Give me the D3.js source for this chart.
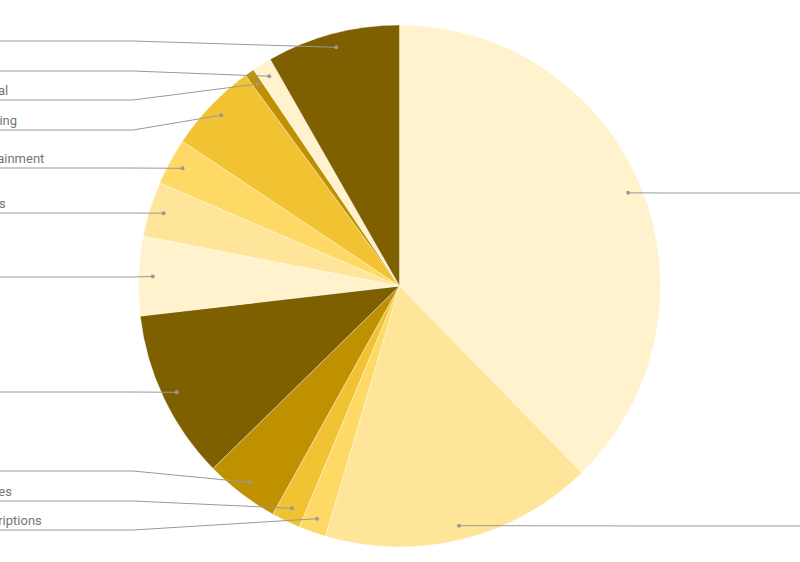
<!DOCTYPE html>
<html>
<head>
<meta charset="utf-8">
<script src="https://cdn.jsdelivr.net/npm/d3@7"></script>
<style>
body { margin: 0; background: #fff; overflow: hidden; }
text { font-family: Roboto, 'Noto Sans', sans-serif; font-size: 13px; fill: #757575; }
</style>
</head>
<body>
<svg id="chart"></svg>
<script>
// slices clockwise from 12 o'clock
var categories = ['Rent', 'Groceries', 'Subscriptions', 'Supplies', 'Gas', 'Dining', 'Travel',
	'Utilities', 'Entertainment', 'Shopping', 'Medical', 'Pets', 'Loans']
var values = [37.7, 16.9, 1.7, 1.8, 4.6, 10.5, 4.9, 3.4, 2.9, 5.6, 0.6, 1.2, 8.25]
var colors = ['#fff2cc', '#ffe599', '#ffd966', '#f1c232', '#bf9000', '#7f6000', '#fff2cc',
	'#ffe599', '#ffd966', '#f1c232', '#bf9000', '#fff2cc', '#7f6000']

var W = 800, H = 562
var cx = 399.5, cy = 286, R = 261
var DOT_R = R * 0.946
var LABEL_GAP = 29.5, LABEL_MIN = 41, LABEL_MAX = 530
var TEXT_X = -37.5, BEND = 133

var svg = d3.select('#chart').attr('width', W).attr('height', H)

var pie = d3.pie().sort(null).value(function(d){return d.v})
var arcs = pie(categories.map(function(c, i){return {name: c, v: values[i], color: colors[i]}}))
var arc = d3.arc().innerRadius(0).outerRadius(R)

var g = svg.append('g').attr('transform', 'translate(' + cx + ',' + cy + ')')
g.selectAll('path').data(arcs).enter().append('path')
	.attr('d', arc)
	.attr('fill', function(d){return d.data.color})
	.attr('stroke', '#fff').attr('stroke-width', 0.4)

// dot position on each slice, label side
arcs.forEach(function(d)
{
	var a = (d.startAngle + d.endAngle) / 2
	d.dx = cx + Math.sin(a) * DOT_R
	d.dy = cy - Math.cos(a) * DOT_R
	d.left = a > Math.PI
})

//spread labels of one side so they do not collide
function layout(items)
{
	items.sort(function(a, b){return a.dy - b.dy})
	var blocks = []
	items.forEach(function(it)
	{
		blocks.push({items: [it], sum: it.dy})
		while(blocks.length > 1)
		{
			var b = blocks[blocks.length - 1], p = blocks[blocks.length - 2]
			var bTop = b.sum / b.items.length - (b.items.length - 1) / 2 * LABEL_GAP
			var pBot = p.sum / p.items.length + (p.items.length - 1) / 2 * LABEL_GAP
			if(bTop - pBot >= LABEL_GAP) break
			p.items = p.items.concat(b.items)
			p.sum += b.sum
			blocks.pop()
		}
	})
	blocks.forEach(function(b)
	{
		var n = b.items.length
		var top = b.sum / n - (n - 1) / 2 * LABEL_GAP
		if(top < LABEL_MIN) top = LABEL_MIN
		if(top + (n - 1) * LABEL_GAP > LABEL_MAX) top = LABEL_MAX - (n - 1) * LABEL_GAP
		b.items.forEach(function(it, i){it.ly = Math.round(top + i * LABEL_GAP)})
	})
}
layout(arcs.filter(function(d){return d.left}))
layout(arcs.filter(function(d){return !d.left}))

var labels = svg.append('g').selectAll('g').data(arcs).enter().append('g')
labels.append('polyline')
	.attr('fill', 'none').attr('stroke', '#999').attr('stroke-width', 1)
	.attr('points', function(d)
	{
		var bx = d.left ? BEND : W - BEND
		var ex = d.left ? TEXT_X : W - TEXT_X
		return [[d.dx, d.dy], [bx, d.ly], [ex, d.ly]].join(' ')
	})
labels.append('circle')
	.attr('cx', function(d){return d.dx})
	.attr('cy', function(d){return d.dy})
	.attr('r', 2).attr('fill', '#999')
labels.append('text')
	.attr('x', function(d){return d.left ? TEXT_X : W + 10})
	.attr('y', function(d){return d.ly - 5})
	.text(function(d){return d.data.name})
</script>
</body>
</html>
